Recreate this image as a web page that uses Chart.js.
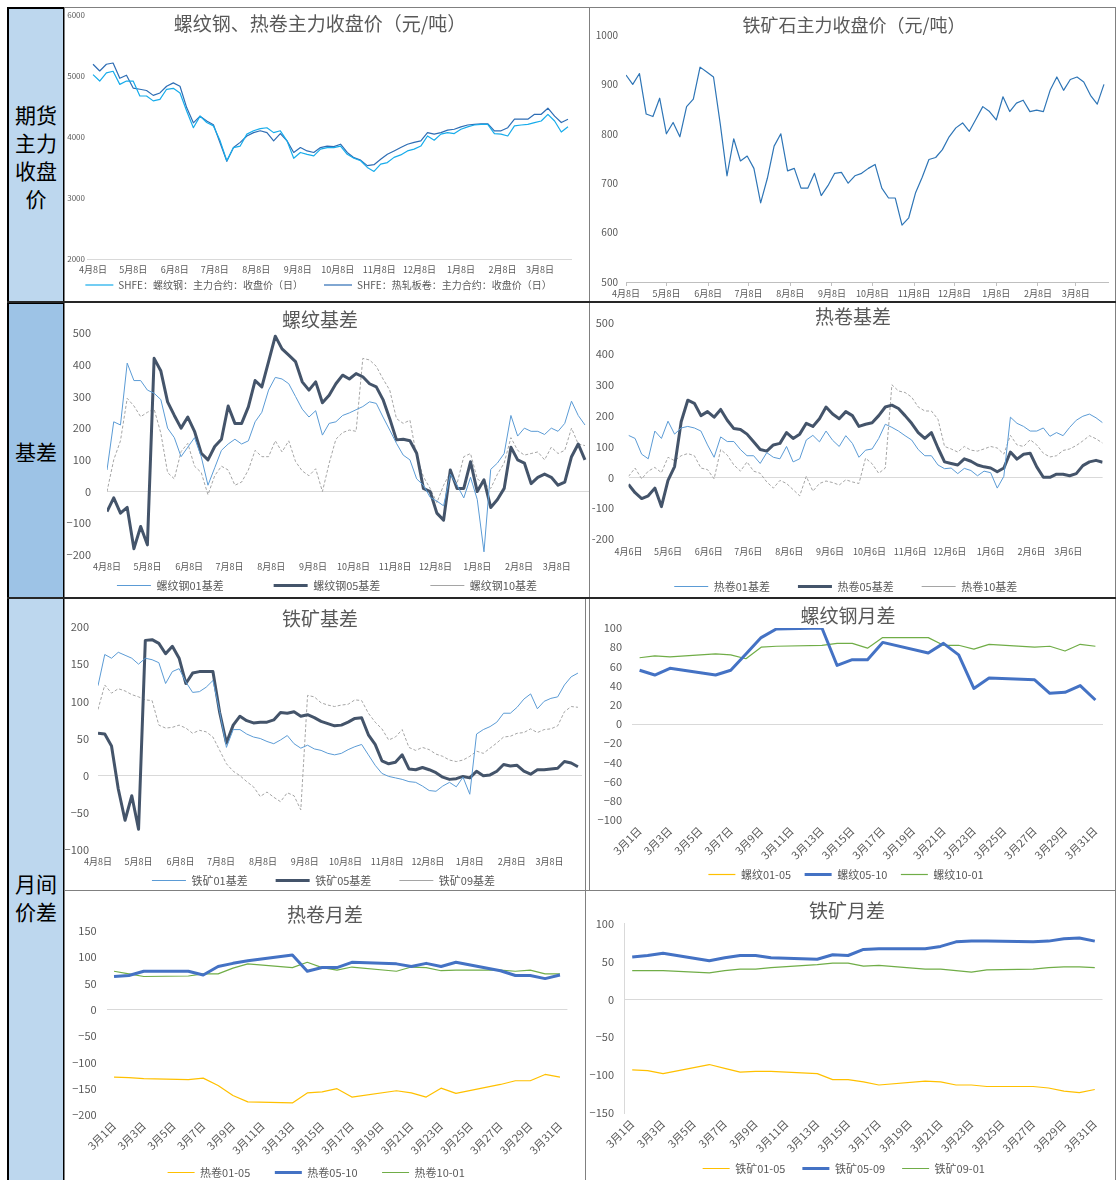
<!DOCTYPE html>
<html lang="zh-CN">
<head>
<meta charset="utf-8">
<title>黑色系期货价格与价差</title>
<script src="https://cdn.jsdelivr.net/npm/chart.js@4.4.1/dist/chart.umd.min.js"></script>
<style>
  html, body { margin: 0; padding: 0; background: #fff; overflow: hidden; }
  body { position: relative; width: 1117px; height: 1180px; }
  .side { position: absolute; box-sizing: border-box; border: 2px solid #000; display: flex; align-items: center;
          justify-content: center; text-align: center; font: 21px/28px "Noto Sans CJK SC", sans-serif; color: #000; }
  .panel { position: absolute; overflow: hidden; background: #fff; }
  .panel canvas { position: absolute; left: 0; top: 0; }
  .frame { position: absolute; box-sizing: border-box; border: 1px solid #808080; pointer-events: none; }
  .rule { position: absolute; left: 7px; width: 1109px; height: 2px; background: #262626; }
</style>
</head>
<body>
<div class="side" style="left:7px;top:7px;width:58px;height:297px;background:#BDD7EE">期货<br>主力<br>收盘<br>价</div>
<div class="side" style="left:7px;top:302px;width:58px;height:297px;background:#9DC3E6">基差</div>
<div class="side" style="left:7px;top:597px;width:58px;height:600px;background:#BDD7EE">月间<br>价差</div>

<div class="panel" style="left:65px;top:8px;width:524px;height:294px"><canvas id="c1" width="524" height="294"></canvas></div>
<div class="panel" style="left:589px;top:8px;width:526px;height:294px"><canvas id="c2" width="526" height="294"></canvas></div>
<div class="panel" style="left:65px;top:302px;width:524px;height:296px"><canvas id="c3" width="524" height="299"></canvas></div>
<div class="panel" style="left:589px;top:302px;width:526px;height:296px"><canvas id="c4" width="526" height="300"></canvas></div>
<div class="panel" style="left:65px;top:598px;width:520px;height:292px"><canvas id="c5" width="520" height="298"></canvas></div>
<div class="panel" style="left:589px;top:598px;width:526px;height:292px"><canvas id="c6" width="526" height="292"></canvas></div>
<div class="panel" style="left:65px;top:890px;width:520px;height:290px"><canvas id="c7" width="520" height="298"></canvas></div>
<div class="panel" style="left:585px;top:890px;width:530px;height:290px"><canvas id="c8" width="530" height="294"></canvas></div>

<div class="frame" style="left:64px;top:7px;width:526px;height:296px"></div>
<div class="frame" style="left:589px;top:7px;width:527px;height:296px"></div>
<div class="frame" style="left:64px;top:302px;width:526px;height:297px"></div>
<div class="frame" style="left:589px;top:302px;width:527px;height:297px"></div>
<div class="frame" style="left:64px;top:598px;width:522px;height:293px"></div>
<div class="frame" style="left:589px;top:598px;width:527px;height:293px"></div>
<div class="frame" style="left:64px;top:890px;width:522px;height:295px"></div>
<div class="frame" style="left:585px;top:890px;width:531px;height:295px"></div>
<div class="rule" style="top:301px"></div>
<div class="rule" style="top:597px"></div>

<script>
// daily series are sampled every STEP calendar days, starting on the first month tick
const STEP = 5;
const MONTH_DAY = [0, 30, 61, 91, 122, 153, 183, 214, 244, 275, 306, 334];
const MONTH_8 = ['4月8日','5月8日','6月8日','7月8日','8月8日','9月8日','10月8日','11月8日','12月8日','1月8日','2月8日','3月8日'];
const MONTH_6 = ['4月6日','5月6日','6月6日','7月6日','8月6日','9月6日','10月6日','11月6日','12月6日','1月6日','2月6日','3月6日'];

// 期货主力收盘价
const rebarClose = [5020,4915,5050,5075,4860,4915,4915,4670,4670,4590,4615,4780,4795,4720,4425,4150,4340,4235,4180,3935,
  3610,3825,3850,4045,4100,4135,4150,4070,4100,3935,3650,3745,3715,3690,3800,3825,3825,3850,3715,3650,
  3610,3500,3435,3555,3580,3665,3705,3770,3800,3850,4015,3945,4045,4070,4055,4125,4165,4195,4205,4205,
  4055,4045,4015,4180,4195,4205,4235,4260,4370,4260,4080,4165];
const hrcClose = [5190,5080,5190,5210,4960,5010,4800,4780,4760,4680,4720,4830,4885,4830,4480,4230,4340,4260,4200,3900,
  3600,3825,3910,4015,4070,4100,4070,3935,4055,3935,3745,3825,3770,3745,3825,3850,3840,3880,3745,3660,
  3620,3530,3545,3635,3715,3770,3825,3880,3910,3935,4070,4045,4070,4110,4125,4165,4195,4205,4215,4215,
  4100,4100,4150,4290,4290,4290,4370,4370,4470,4340,4235,4290];
const oreClose = [919,900,922,840,835,872,800,823,794,855,870,935,925,915,820,715,790,745,755,730,
  660,710,775,800,725,730,690,690,720,675,695,720,722,700,715,720,730,738,690,670,
  670,615,630,680,712,748,752,768,794,812,822,805,830,855,845,828,875,845,862,868,
  845,848,845,888,915,888,910,915,905,878,860,900];

// 螺纹基差
const rebarBasis01 = [68,220,210,405,350,350,320,310,290,200,170,110,140,170,110,20,75,130,150,165,
  150,160,220,250,320,360,355,340,300,260,235,255,178,215,220,240,248,258,268,283,
  278,235,194,152,115,100,40,20,-18,-30,-45,55,20,-20,45,-25,-190,70,90,120,
  240,175,200,190,190,180,200,190,215,285,240,210];
const rebarBasis05 = [-63,-20,-68,-50,-180,-110,-168,420,380,283,240,200,235,190,121,100,142,165,270,215,
  215,267,350,330,410,490,450,430,410,346,320,346,280,304,340,367,355,372,362,340,
  330,290,230,163,165,160,121,10,0,-68,-90,68,10,10,94,0,37,-50,-25,10,
  140,100,90,25,45,55,45,20,30,110,150,100];
const rebarBasis10 = [0,100,160,294,270,236,250,260,184,60,40,126,152,80,60,-10,50,80,68,20,
  30,68,130,110,110,160,125,160,95,65,50,72,0,89,165,186,194,190,420,415,
  395,355,320,230,215,225,110,47,10,-35,20,60,25,110,120,40,25,10,55,90,
  170,130,115,120,125,100,140,120,130,200,150,145];

// 热卷基差
const hrcBasis01 = [136,126,75,60,150,126,182,140,160,165,160,150,105,65,131,116,116,90,70,70,
  45,80,65,60,100,50,60,121,136,115,150,120,100,135,110,65,88,92,126,172,
  162,150,135,121,90,70,70,40,28,30,12,29,22,5,20,15,-35,3,195,175,
  165,150,150,160,133,145,135,162,185,198,205,193,177];
const hrcBasis05 = [-23,-50,-69,-60,-35,-95,-10,35,180,250,240,200,213,195,220,185,158,155,140,115,
  90,85,105,110,145,126,140,175,165,190,228,205,190,213,200,165,172,177,200,228,
  234,223,200,175,145,126,145,95,50,45,40,60,52,40,34,30,18,30,82,59,
  75,78,34,0,0,10,10,5,12,38,50,55,49];
const hrcBasis10 = [3,30,-5,20,32,15,65,54,70,77,70,30,25,-5,90,72,40,20,50,20,
  13,-15,-35,-10,-20,-40,-60,3,-45,-20,-12,-17,-25,-8,-15,-20,62,44,13,30,
  300,280,275,260,228,215,215,188,100,92,82,100,88,85,92,100,95,75,136,105,
  100,122,105,78,66,70,87,92,103,118,135,125,111];

// 铁矿基差
const oreBasis01 = [121,163,158,166,162,158,150,158,156,152,124,140,144,126,112,113,119,128,86,38,
  62,62,56,52,50,46,43,48,54,43,37,41,36,34,30,28,30,35,39,42,
  28,14,3,-1,-3,-5,-8,-9,-14,-20,-21,-14,-9,-15,-2,-25,56,62,66,72,
  84,84,92,103,110,90,100,104,106,122,133,138];
const oreBasis05 = [57,56,40,-18,-60,-27,-72,182,183,178,164,174,158,124,138,140,140,140,85,44,
  68,80,74,71,72,72,75,85,84,86,80,82,78,73,70,67,68,72,77,78,
  55,42,20,16,18,28,9,8,11,8,4,-2,-5,-4,-1,-3,6,0,1,6,
  15,13,14,6,2,8,8,9,10,19,17,12];
const oreBasis09 = [89,122,111,117,114,109,106,102,101,68,64,65,68,64,57,61,59,52,34,16,
  6,0,-8,-15,-28,-22,-29,-35,-23,-27,-46,108,106,98,95,93,95,96,102,101,
  84,72,63,48,52,62,38,34,38,35,29,26,21,19,21,26,33,30,37,44,
  52,53,57,58,63,58,62,63,67,86,93,92];

// 月间价差 (三月交易日)
const MARCH_DAYS = ['3月1日','3月2日','3月3日','3月4日','3月5日','3月6日','3月7日','3月8日','3月9日','3月10日',
  '3月11日','3月12日','3月13日','3月14日','3月15日','3月16日','3月17日','3月18日','3月19日','3月20日',
  '3月21日','3月22日','3月23日','3月24日','3月25日','3月26日','3月27日','3月28日','3月29日','3月30日','3月31日'];
const TRADE_DAYS = ['3月1日','3月2日','3月3日','3月6日','3月7日','3月8日','3月9日','3月10日','3月13日','3月14日',
  '3月15日','3月16日','3月17日','3月20日','3月21日','3月22日','3月23日','3月24日','3月27日','3月28日',
  '3月29日','3月30日','3月31日'];
const rebar0105 = [];
const rebar0510 = [56,51,58,51,56,73,90,99,100,61,67,67,85,74,84,72,37,48,46,32,33,40,25];
const rebar1001 = [69,71,70,73,72,68,80,81,82,84,84,79,90,90,82,82,78,83,80,81,76,83,81];
const hrc0105 = [-128,-129,-131,-133,-130,-144,-163,-175,-177,-158,-156,-150,-166,-154,-158,-166,-149,-159,-142,-135,-135,-123,-128];
const hrc0510 = [63,65,73,73,66,82,88,93,104,73,80,80,90,87,82,88,82,90,74,65,65,59,66];
const hrc1001 = [73,68,63,64,68,68,79,87,80,90,80,75,81,73,81,80,74,75,75,73,75,68,68];
const ore0105 = [-93,-94,-98,-86,-91,-96,-95,-95,-98,-106,-106,-109,-113,-108,-109,-113,-113,-115,-115,-117,-121,-123,-119];
const ore0509 = [56,58,61,51,55,58,58,55,53,59,58,66,67,67,70,76,77,77,76,77,80,81,77];
const ore0901 = [38,38,38,35,38,40,40,42,46,48,48,44,45,40,40,38,36,39,40,42,43,43,42];

const FONT = '"Noto Sans CJK SC", "Noto Sans", sans-serif';
const INK = '#595959';
Chart.defaults.font.family = FONT;
Chart.defaults.color = INK;
Chart.defaults.animation = false;

const THIN_BLUE = { color: '#5B9BD5', width: 1 };
const THICK_SLATE = { color: '#44546A', width: 3 };
const GREY_DASH = { color: '#A5A5A5', width: 1, dash: [3, 2] };
const YELLOW = { color: '#FFC000', width: 1.2 };
const THICK_BLUE = { color: '#4472C4', width: 3 };
const GREEN = { color: '#70AD47', width: 1.2 };

const titlePlugin = {
  id: 'panelTitle',
  afterDraw(chart, args, o) {
    const c = chart.ctx;
    c.save();
    c.font = `${o.size}px ${FONT}`;
    c.fillStyle = INK;
    c.textAlign = 'center';
    c.textBaseline = 'middle';
    c.fillText(o.text, o.x, o.y);
    c.restore();
  }
};

const minus = v => (v < 0 ? '−' + Math.abs(v) : String(v));

function daily(values) { return values.map((v, i) => ({ x: i * STEP, y: v })); }
function monthly(values) { return values.map((v, i) => ({ x: TRADE_DAYS[i], y: v })); }

function dataset(label, data, s) {
  return {
    label, data, borderColor: s.color, backgroundColor: s.color, borderWidth: s.width,
    borderDash: s.dash || [], pointRadius: 0, pointHoverRadius: 0, tension: 0, fill: false,
    borderJoinStyle: 'round', spanGaps: true
  };
}

// gap: extra blank text after each legend entry, to space the entries like the original
function legendOpts(lg) {
  if (!lg) return { display: false };
  return {
    display: true, position: 'bottom',
    labels: {
      usePointStyle: true, pointStyle: 'line', pointStyleWidth: lg.box,
      font: { size: lg.size }, color: INK, padding: lg.pad,
      generateLabels(chart) {
        const items = Chart.defaults.plugins.legend.labels.generateLabels(chart);
        items.forEach((it, i) => { if (i < items.length - 1) it.text += lg.gap; });
        return items;
      }
    }
  };
}

function makeChart(id, cfg) {
  const cv = document.getElementById(id);
  const W = cv.width, H = cv.height, p = cfg.plot;
  const legH = cfg.legend ? cfg.legend.size + cfg.legend.pad + 10 : 0;
  const xH = H - cfg.padB - legH - p.b;
  const y = cfg.y, x = cfg.x;

  const xScale = x.category ? {
    type: 'category', offset: true,
    grid: { display: false, drawTicks: false, tickLength: 0 }, border: { display: false },
    ticks: { autoSkip: false, minRotation: 45, maxRotation: 45, padding: x.pad, font: { size: x.font },
             callback: (v, i) => (i % 2 === 0 ? MARCH_DAYS[i] : '') }
  } : {
    type: 'linear', min: x.min, max: x.max,
    afterBuildTicks: s => { s.ticks = MONTH_DAY.map(v => ({ value: v })); },
    grid: x.marks ? { display: true, drawOnChartArea: false, drawTicks: true, tickLength: 4, color: '#BFBFBF' }
                  : { display: false, drawTicks: false, tickLength: 0 },
    border: { display: !!x.marks, color: '#BFBFBF' },
    ticks: { autoSkip: false, maxRotation: 0, padding: x.pad, font: { size: x.font },
             callback: (v, i) => x.labels[i] }
  };
  xScale.afterFit = s => { s.height = xH; };

  const yScale = {
    min: y.min, max: y.max,
    afterFit: s => { s.width = p.l; },
    grid: { drawTicks: false, tickLength: 0,
            color: c => (c.tick && c.tick.value === y.gridAt ? '#D9D9D9' : 'rgba(0,0,0,0)') },
    border: { display: !!y.axisLine, color: '#D9D9D9' },
    ticks: { stepSize: y.step, padding: y.pad, font: { size: y.font },
             callback: v => (y.hyphen ? String(v) : minus(v)) }
  };

  new Chart(cv, {
    type: 'line',
    data: { labels: x.category ? MARCH_DAYS : undefined, datasets: cfg.series },
    options: {
      responsive: false, devicePixelRatio: 1,
      layout: { padding: { left: 0, top: p.t, right: W - p.r, bottom: cfg.padB } },
      scales: { x: xScale, y: yScale },
      plugins: { legend: legendOpts(cfg.legend), tooltip: { enabled: false }, panelTitle: cfg.title }
    },
    plugins: [titlePlugin]
  });
}

const SP1 = '\u3000', SP2 = '\u3000\u3000', SP4 = '\u3000\u3000\u3000\u3000';

makeChart('c1', {
  plot: { l: 22, t: 5, r: 507, b: 251 }, padB: 2,
  y: { min: 2000, max: 6000, step: 1000, font: 8, pad: 2, gridAt: 2000 },
  x: { min: -4.5, max: 358, font: 9, pad: 5, labels: MONTH_8 },
  legend: { size: 10, pad: 6, gap: SP2, box: 28 },
  title: { text: '螺纹钢、热卷主力收盘价（元/吨）', x: 255, y: 16, size: 19 },
  series: [
    dataset('SHFE：螺纹钢：主力合约：收盘价（日）', daily(rebarClose), { color: '#17ACEB', width: 1.2 }),
    dataset('SHFE：热轧板卷：主力合约：收盘价（日）', daily(hrcClose), { color: '#2E6DB4', width: 1.2 })
  ]
});

makeChart('c2', {
  plot: { l: 37, t: 27, r: 519, b: 274 }, padB: 0,
  y: { min: 500, max: 1000, step: 100, font: 10, pad: 8, gridAt: null },
  x: { min: 0, max: 358, font: 9, pad: 2, labels: MONTH_8, marks: true },
  legend: null,
  title: { text: '铁矿石主力收盘价（元/吨）', x: 265, y: 17, size: 18 },
  series: [dataset('铁矿石主力收盘价', daily(oreClose), { color: '#2E75B6', width: 1.2 })]
});

makeChart('c3', {
  plot: { l: 42, t: 31, r: 524, b: 253 }, padB: 0,
  y: { min: -200, max: 500, step: 100, font: 11, pad: 16, gridAt: 0 },
  x: { min: 0, max: 358, font: 9, pad: 6, labels: MONTH_8 },
  legend: { size: 11, pad: 6, gap: SP4, box: 34 },
  title: { text: '螺纹基差', x: 255, y: 18, size: 19 },
  series: [
    dataset('螺纹钢01基差', daily(rebarBasis01), THIN_BLUE),
    dataset('螺纹钢05基差', daily(rebarBasis05), THICK_SLATE),
    dataset('螺纹钢10基差', daily(rebarBasis10), GREY_DASH)
  ]
});

makeChart('c4', {
  plot: { l: 39.5, t: 10, r: 513.6, b: 237 }, padB: 0,
  y: { min: -200, max: 500, step: 100, font: 11, pad: 14.5, gridAt: 0, hyphen: true },
  x: { min: 0, max: 360, font: 9, pad: 7.6, labels: MONTH_6 },
  legend: { size: 11, pad: 6, gap: SP2, box: 34 },
  title: { text: '热卷基差', x: 264, y: 15, size: 19 },
  series: [
    dataset('热卷01基差', daily(hrcBasis01), THIN_BLUE),
    dataset('热卷05基差', daily(hrcBasis05), THICK_SLATE),
    dataset('热卷10基差', daily(hrcBasis10), GREY_DASH)
  ]
});

makeChart('c5', {
  plot: { l: 33, t: 29, r: 517, b: 252 }, padB: 0,
  y: { min: -100, max: 200, step: 50, font: 11, pad: 9, gridAt: 0 },
  x: { min: 0, max: 358, font: 9, pad: 6, labels: MONTH_8 },
  legend: { size: 11, pad: 6, gap: SP2, box: 34 },
  title: { text: '铁矿基差', x: 255, y: 21, size: 19 },
  series: [
    dataset('铁矿01基差', daily(oreBasis01), THIN_BLUE),
    dataset('铁矿05基差', daily(oreBasis05), THICK_SLATE),
    dataset('铁矿09基差', daily(oreBasis09), GREY_DASH)
  ]
});

makeChart('c6', {
  plot: { l: 43, t: 30, r: 514, b: 222 }, padB: 0,
  y: { min: -100, max: 100, step: 20, font: 11, pad: 10, gridAt: 0 },
  x: { category: true, font: 11, pad: 4 },
  legend: { size: 11, pad: 8, gap: '\u2002', box: 27 },
  title: { text: '螺纹钢月差', x: 259, y: 18, size: 19 },
  series: [
    dataset('螺纹01-05', monthly(rebar0105), YELLOW),
    dataset('螺纹05-10', monthly(rebar0510), THICK_BLUE),
    dataset('螺纹10-01', monthly(rebar1001), GREEN)
  ]
});

makeChart('c7', {
  plot: { l: 41.6, t: 40.7, r: 502.4, b: 225 }, padB: 0,
  y: { min: -200, max: 150, step: 50, font: 11, pad: 10, gridAt: 0 },
  x: { category: true, font: 11, pad: 4 },
  legend: { size: 11, pad: 8, gap: '\u3000\u2002', box: 27 },
  title: { text: '热卷月差', x: 260, y: 25, size: 19 },
  series: [
    dataset('热卷01-05', monthly(hrc0105), YELLOW),
    dataset('热卷05-10', monthly(hrc0510), THICK_BLUE),
    dataset('热卷10-01', monthly(hrc1001), GREEN)
  ]
});

makeChart('c8', {
  plot: { l: 39.5, t: 33.7, r: 517.5, b: 223 }, padB: 0,
  y: { min: -150, max: 100, step: 50, font: 11, pad: 10.5, gridAt: 0, axisLine: true },
  x: { category: true, font: 11, pad: 4 },
  legend: { size: 11, pad: 6, gap: SP1, box: 27 },
  title: { text: '铁矿月差', x: 262, y: 21, size: 19 },
  series: [
    dataset('铁矿01-05', monthly(ore0105), YELLOW),
    dataset('铁矿05-09', monthly(ore0509), THICK_BLUE),
    dataset('铁矿09-01', monthly(ore0901), GREEN)
  ]
});
</script>
</body>
</html>
